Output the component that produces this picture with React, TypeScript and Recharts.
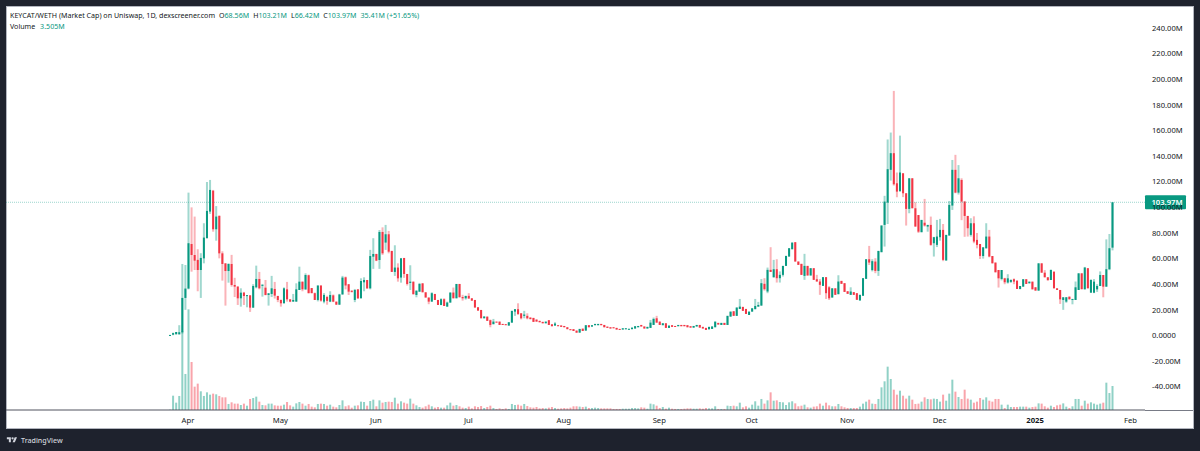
import { Bar, ComposedChart, Label, ReferenceLine, XAxis, YAxis } from 'recharts';

const FONT = '"Noto Sans", sans-serif';
const UP = '#089981';
const DOWN = '#f23645';
const FIRST_DAY = -6; // days relative to 1 Apr 2024

const opens = [
  0.2, 0.6, 0.9, 0.9, 2.5, 29.3,
  36.6, 71.4, 62.8, 59, 51.1, 60.2, 75.9, 96.7, 113, 82.9,
  93.3, 64.1, 56.3, 50.3, 55.8, 39.4, 38.1, 29, 33.4, 31,
  31.3, 21.7, 37.6, 44.1, 39, 37.3, 31.6, 32.4, 36.3, 30.8,
  27.7, 25.1, 36, 28.2, 26.4, 26.4, 35.5, 42, 36, 47,
  37, 33, 27.7, 39, 26.4, 30, 26.4, 31.3, 26.4, 24,
  32.1, 45.4, 40, 35, 27.7, 36, 29, 41.5, 43.3, 36.8,
  61.5, 63.6, 58.9, 80.8, 72.5, 79, 66, 49.6, 53, 45.2,
  60.5, 48, 41, 42, 31.6, 34.2, 40.7, 33.7, 29.6, 26.4,
  32.4, 27.7, 23.8, 28.3, 22.5, 25.7, 33.5, 29, 40.2, 30,
  29, 30.9, 29, 27.7, 22, 19.9, 13.4, 14.7, 11.9, 8.8,
  10.8, 10.8, 9, 8.8, 7.7, 10, 18.6, 20.5, 17.3, 15.3,
  15.3, 14, 13.7, 12.4, 11.4, 10.6, 9.5, 11.9, 8.7, 7.7,
  8, 7.8, 7.4, 6.4, 4.9, 4.9, 3.8, 2.2, 5.3, 3.8,
  8, 6.9, 8, 8, 9, 8.2, 6.9, 6.4, 6.4, 5.9,
  5.1, 4.6, 4.9, 5, 4.9, 5.4, 6.4, 8.2, 7, 5.4,
  5.9, 8.2, 13.4, 10.8, 8, 9.5, 5.9, 8, 7.4, 7.2,
  8.2, 8.2, 8, 7.2, 6.1, 7, 8.2, 6.7, 5.9, 4.8,
  5.1, 6.4, 9.8, 8.2, 9.8, 8.2, 14.7, 18.9, 15.3, 20.7,
  22.3, 20.7, 16, 18.6, 20.5, 22.5, 23.3, 40.3, 34.3, 51.2,
  45.5, 51.7, 44.7, 47.3, 54.3, 61.6, 67.3, 72.8, 57.7, 55.9,
  46.5, 54.3, 46.8, 52.5, 43.9, 42.1, 38.7, 45.5, 37.6, 29.6,
  36.8, 32.2, 42.6, 40.8, 34.5, 31.7, 33.8, 33, 27.3, 31,
  44.2, 59.5, 51, 57.7, 50.4, 65, 86.3, 103.7, 129.3, 142.3,
  118.8, 112.8, 126.6, 111, 98.8, 122.7, 99.3, 94, 80.6, 88,
  85, 86.3, 72, 70.7, 76.7, 82.4, 58.5, 78, 101.4, 129.3,
  111.5, 121.4, 104.5, 93.3, 78.5, 87.6, 74.6, 71.4, 62, 68,
  77.2, 62, 56.9, 51.1, 44.1, 44.6, 41.3, 41.8, 43.9, 42.8,
  36.3, 38.1, 43.9, 40.7, 42, 37.6, 35, 56.3, 49, 45.4,
  43.3, 49.8, 36.8, 35.5, 27.7, 26.4, 30.3, 28, 27.7, 35.5,
  48.5, 36, 52.5, 33.4, 33.4, 36, 38.6, 47.2, 38.1, 51.7, 68.56,
];

const closes = [
  0.4, 1.8, 2.7, 2.5, 29.3, 36.6,
  72, 62.8, 58.4, 51.1, 60.5, 76.4, 97.2, 113.6, 82.9, 92.8,
  64.1, 55.8, 50.3, 55.8, 39.4, 38.1, 29, 33.4, 30.8, 31.5,
  21.7, 38.6, 44.1, 36.8, 39.5, 31.6, 32.9, 36.8, 31.1, 27.7,
  25.1, 36.8, 28.2, 26.4, 27.7, 36, 42, 36, 47.2, 33,
  33, 27.7, 39, 27.2, 31.6, 27, 31.6, 26.4, 24, 32,
  45.2, 39, 34.2, 34, 35.5, 29, 42.5, 43.3, 36.8, 62,
  63.6, 58.4, 80.8, 64.1, 79, 65.4, 49.6, 53, 44.6, 60.2,
  48, 40.2, 42, 32.2, 34.8, 40.2, 33.7, 29.6, 26.4, 33,
  27.7, 23.8, 28.3, 23, 25.7, 33.5, 29, 40.2, 29.8, 29,
  30.9, 28.8, 27.2, 21.8, 19.4, 13.4, 14.7, 11.4, 8.2, 10.8,
  10.3, 8.2, 8.2, 8, 10.3, 19.2, 20.5, 16.8, 13.4, 16.3,
  13.4, 12.7, 10.6, 10.8, 10.3, 9.5, 10.8, 8.2, 7.2, 9.3,
  7.8, 6.7, 6.4, 4.9, 4.5, 3.5, 2.2, 5.1, 3.5, 8,
  6.4, 8, 9, 9, 8, 6.4, 5.9, 5.4, 5.6, 4.6,
  5, 5.6, 5.6, 5.2, 6.1, 7.2, 7.4, 7, 5.4, 6.7,
  10, 12.9, 10, 8.2, 9.5, 5.9, 7.7, 6.7, 6.7, 8.2,
  7.2, 7.2, 6.4, 6.1, 7.4, 8.2, 6.1, 5.4, 4.3, 6.7,
  7, 10.8, 8.5, 9.8, 8.2, 15.3, 18.6, 15.3, 21.8, 22.5,
  19.2, 16.8, 18.6, 21.2, 23, 23.8, 40.8, 36.1, 51.2, 49.6,
  51.7, 44.7, 47.3, 54.3, 62.1, 68.1, 72.5, 57.7, 55.1, 47.3,
  54.3, 46.8, 52.5, 43.4, 42.1, 39.5, 45.5, 33, 29, 36.8,
  31.7, 42.1, 40.3, 34, 32.5, 34.3, 31.7, 27.8, 31.7, 44.7,
  59.5, 56.9, 58, 50.4, 66, 85.8, 104.5, 129.8, 142.3, 118,
  112.3, 127.2, 111, 98.8, 122.7, 99.3, 85, 81, 90.2, 85.8,
  86.3, 70.7, 76.7, 77.2, 82.4, 59, 78.5, 101.9, 129.3, 111.5,
  122.7, 104.5, 93.3, 83.7, 87.6, 73.3, 70.7, 62.1, 68.8, 77.2,
  61.6, 56.3, 49.3, 44.6, 51.1, 41.5, 44.6, 43.3, 42, 36.3,
  38.6, 43.9, 40.2, 42, 36, 35, 56.3, 49, 45.4, 43.3,
  51.1, 36.8, 35.5, 28.2, 29.8, 29.8, 28.2, 28.5, 37.6, 48.5,
  36.1, 53, 36.8, 43.3, 42, 38.6, 47.2, 38.1, 51.7, 68.1, 103.97,
];

const highs = [
  0.4, 2.2, 2.7, 8, 55.8, 55,
  111.5, 100, 92.8, 67.3, 64.2, 87.6, 119.8, 121.4, 113.6, 101,
  93.8, 65.7, 56.3, 56.3, 62.9, 45, 38.5, 36.8, 34, 31.5,
  31.5, 40, 54.5, 49.6, 40.2, 43.3, 33, 46.5, 41.8, 31,
  28, 37.5, 41.8, 28.2, 32.4, 40.7, 53.7, 42, 48.5, 47.5,
  37, 33.5, 39, 39, 33, 31, 34.5, 32, 26.4, 32.5,
  46.5, 46, 40, 35, 36.3, 36, 44.6, 45.4, 43.3, 66.8,
  75.9, 63.8, 82.3, 84.4, 86.3, 81.6, 66, 70.4, 56.3, 60.5,
  60.5, 48, 54.8, 42, 35.5, 41, 40.7, 33.7, 29.6, 33.7,
  32.4, 27.7, 29, 29, 26.4, 33.5, 37.4, 40.2, 40.2, 31.7,
  30.9, 33, 29, 27.7, 22, 19.9, 15.2, 14.7, 12.4, 12.9,
  10.8, 10.8, 9, 8.8, 10.3, 19.2, 20.5, 25.1, 17.3, 19.2,
  17.3, 14, 13.7, 12.4, 11.4, 10.6, 10.8, 11.9, 8.7, 10.3,
  8, 7.8, 7.4, 6.4, 4.9, 4.9, 3.8, 5.1, 5.3, 8,
  8, 8, 9, 9, 9, 8.2, 6.9, 6.4, 6.4, 5.9,
  5.1, 5.6, 5.6, 5.2, 6.1, 7.2, 7.4, 8.2, 7, 6.7,
  12.1, 14, 15.3, 10.8, 9.5, 9.5, 7.7, 8, 7.4, 8.2,
  8.2, 8.2, 8, 7.2, 7.4, 8.2, 8.2, 6.7, 5.9, 6.7,
  7, 10.8, 9.8, 9.8, 9.8, 15.3, 18.6, 18.9, 21.8, 28.5,
  22.3, 20.7, 18.6, 21.2, 28.5, 26.2, 44, 44.7, 53, 68.9,
  59, 59.5, 50, 54.3, 62.1, 68.1, 72.5, 72.8, 57.7, 55.9,
  63.7, 54.3, 52.5, 52.5, 47.3, 44, 45.5, 45.5, 38.5, 36.8,
  36.8, 47, 42.6, 40.8, 34.5, 37.6, 33.8, 33, 31.7, 44.7,
  59.5, 69.9, 59.5, 60.3, 66, 86, 109, 153, 158.4, 190.9,
  127.2, 156, 126.6, 111, 122.7, 122.7, 104, 94, 90.2, 106.6,
  86.3, 92.8, 77, 90.2, 91, 87, 78.5, 105, 137, 141,
  133, 122.7, 105, 93.3, 91.5, 93, 80, 71.4, 68.8, 87.6,
  82.4, 62, 56.9, 51.1, 51.1, 45, 47.8, 43.8, 44.5, 42.8,
  38.6, 43.9, 43.9, 42, 42, 37.6, 56.3, 56.3, 51, 45.5,
  51.5, 49.8, 36.8, 35.5, 29.8, 30, 30.3, 28.5, 42.1, 48.5,
  48.5, 53.5, 52.5, 43.8, 44, 40, 50, 47.2, 75, 79.2, 103.97,
];

const lows = [
  -0.1, 0.2, 0.9, 0.7, 1.5, 20,
  36, 49.8, 51.1, 34.5, 29.3, 56.3, 75.9, 94.9, 81, 74,
  60.2, 42.8, 23.3, 41.2, 38.1, 30, 23.8, 22.5, 23.8, 22,
  18.4, 21.7, 36.8, 36, 30.3, 31.3, 23.3, 30, 28.8, 26,
  22.5, 25.1, 26.4, 26, 26.4, 26.4, 35.5, 34.5, 35.5, 32.9,
  33, 27.7, 26.6, 26.4, 25.1, 24, 26, 26, 24, 24,
  31.6, 36, 31.6, 33.5, 26, 28.5, 29, 34.5, 36.3, 36,
  52, 58, 52, 62.9, 66.8, 64.1, 49.6, 46.5, 42, 41.2,
  45, 39, 35.5, 32, 29.8, 34, 33.7, 29.6, 24.4, 26.4,
  27.7, 23.8, 23.6, 23, 22.5, 25.5, 29, 29, 29.8, 27.2,
  28, 28.8, 27, 21.8, 19.4, 13.4, 13.4, 11.4, 6.4, 8.7,
  10, 8.2, 8.2, 8, 7.7, 10, 15.3, 16, 12.5, 13.4,
  12.6, 12.7, 10.6, 10.8, 10.3, 9.5, 9.5, 8.2, 7.2, 7.7,
  7.8, 6.7, 6.4, 4.9, 4.5, 3.5, 2, 2.2, 3.5, 3.8,
  6.4, 6.9, 8, 8, 8, 6.4, 5.9, 5.4, 5.6, 4.6,
  5, 4.6, 4.9, 5, 4.9, 5.4, 6.4, 7, 5.4, 5.4,
  5.9, 8.2, 10, 8.2, 8, 5.9, 5.9, 6.7, 6.7, 7.2,
  7.2, 7.2, 6.4, 6.1, 6.1, 7, 6.1, 5.4, 4.3, 4.8,
  5.1, 6.4, 8.5, 8.2, 8.2, 8.2, 14.7, 15.3, 15.3, 20.7,
  19.2, 16.8, 16, 18.6, 20.5, 22.5, 23.3, 35, 33, 49.6,
  45, 41.3, 41.3, 46, 54.3, 61.6, 67.3, 57.7, 55.1, 47.3,
  43.4, 46.8, 46.8, 43.4, 42.1, 31.7, 38.7, 28.5, 27.7, 29.6,
  31.7, 32.2, 40.3, 34, 32.5, 31.7, 31.7, 27.8, 27.3, 31,
  44.2, 55, 50, 48.6, 46.5, 65, 69.4, 87, 120.9, 117,
  107.9, 112, 108, 85.8, 95.4, 99.3, 85, 80, 80.6, 85,
  81, 70, 61.6, 69, 74, 58, 58.5, 78, 98, 111,
  110, 90, 77, 77.2, 77.2, 72, 68, 59.7, 60, 68,
  61, 56.3, 49.3, 37.4, 43, 40, 40.5, 41, 40, 36.3,
  36, 38.1, 40.2, 40.7, 36, 35, 35, 49, 45.4, 42.5,
  43.3, 36.8, 35.5, 24.6, 20, 25.5, 28.2, 24.3, 27.7, 35.5,
  36.1, 36, 36.8, 33.4, 33, 34, 38.6, 29.8, 38, 51, 66.42,
];

const volumes = [
  0.05, 2.09, 1.07, 2.05, 11.5, 5.26,
  14.7, 7.01, 3.41, 3.85, 2.73, 2.05, 2.58, 2.24, 2.39, 2.29,
  2.05, 1.85, 1.85, 0.88, 1.12, 0.93, 0.93, 0.73, 0.93, 0.63,
  1.61, 1.75, 1.95, 1.22, 0.73, 0.68, 0.93, 0.93, 0.68, 0.63,
  0.63, 0.78, 1.17, 0.68, 0.49, 0.97, 1.17, 0.93, 0.63, 0.88,
  0.49, 0.39, 0.88, 0.93, 0.88, 0.63, 0.78, 0.49, 0.39, 0.73,
  1.41, 0.54, 0.68, 0.34, 0.63, 0.68, 1.22, 1.17, 0.63, 1.31,
  1.51, 0.54, 1.41, 1.07, 1.17, 1.22, 1.17, 1.8, 0.93, 1.27,
  1.07, 0.93, 1.66, 0.93, 0.68, 0.44, 0.34, 0.54, 0.78, 0.54,
  0.34, 0.44, 0.34, 0.34, 0.68, 1.07, 0.63, 0.73, 0.54, 0.34,
  0.29, 0.49, 0.24, 0.54, 0.44, 0.58, 0.29, 0.44, 0.63, 0.29,
  0.15, 0.24, 0.15, 0.24, 0.15, 0.88, 0.73, 0.78, 0.63, 0.88,
  0.58, 0.39, 0.34, 0.44, 0.24, 0.29, 0.24, 0.34, 0.44, 0.29,
  0.19, 0.24, 0.29, 0.24, 0.34, 0.54, 0.54, 0.49, 0.44, 0.49,
  0.29, 0.29, 0.34, 0.29, 0.24, 0.24, 0.24, 0.24, 0.15, 0.15,
  0.15, 0.19, 0.19, 0.19, 0.29, 0.29, 0.24, 0.39, 0.34, 0.19,
  0.93, 0.83, 0.63, 0.29, 0.44, 0.19, 0.34, 0.19, 0.15, 0.15,
  0.15, 0.19, 0.24, 0.24, 0.19, 0.19, 0.24, 0.19, 0.29, 0.24,
  0.24, 0.54, 0.15, 0.15, 0.15, 0.63, 0.58, 0.63, 0.54, 1.07,
  0.39, 0.54, 0.34, 0.78, 1.27, 0.63, 1.61, 0.93, 1.41, 2.58,
  1.36, 1.41, 1.17, 1.12, 0.73, 1.12, 1.27, 0.97, 0.54, 0.63,
  0.78, 0.39, 0.34, 0.49, 0.54, 0.93, 0.63, 1.07, 0.68, 0.54,
  0.54, 0.88, 0.54, 0.39, 0.29, 0.29, 0.29, 0.29, 0.49, 0.93,
  1.22, 1.51, 0.93, 0.88, 1.61, 3.31, 4.19, 6.33, 4.53, 2.97,
  2.24, 2.82, 2.09, 1.66, 2.09, 1.51, 0.88, 0.93, 1.22, 1.85,
  1.61, 1.56, 1.66, 1.61, 1.22, 2.24, 1.36, 2.39, 4.43, 2.68,
  1.9, 1.61, 2.97, 1.66, 1.51, 1.07, 1.22, 1.75, 1.51, 1.85,
  1.36, 1.22, 1.61, 1.61, 0.78, 0.29, 0.78, 0.44, 0.44, 0.44,
  0.49, 0.49, 0.49, 0.34, 0.44, 0.49, 0.97, 0.93, 0.54, 0.34,
  0.63, 0.44, 0.68, 0.78, 0.97, 0.49, 0.29, 0.54, 1.61, 1.61,
  0.63, 1.36, 0.93, 1.12, 0.93, 0.78, 0.93, 1.07, 3.99, 2.48, 3.505,
];

const priceTicks = [-40, -20, 0, 20, 40, 60, 80, 100, 120, 140, 160, 180, 200, 220, 240];
const monthLabels = ['Apr', 'May', 'Jun', 'Jul', 'Aug', 'Sep', 'Oct', 'Nov', 'Dec', '2025', 'Feb'];
const monthDays = [0, 30, 61, 91, 122, 153, 183, 214, 244, 275, 306];

const headerValues = [
  ['O', '68.56M'],
  ['H', '103.21M'],
  ['L', '66.42M'],
  ['C', '103.97M'],
];

const rows = opens.map((open, i) => ({
  day: FIRST_DAY + i,
  open,
  close: closes[i],
  range: [lows[i], highs[i]],
  volume: volumes[i],
}));

const formatPrice = (v: number) => (v === 0 ? '0.0000' : `${v.toFixed(2)}M`);

const Candle = (props: any) => {
  const { x, y, width, height, payload } = props;
  const [low, high] = payload.range;
  const color = payload.close >= payload.open ? UP : DOWN;
  const perUnit = height / (high - low || 1);
  const bodyTop = y + (high - Math.max(payload.open, payload.close)) * perUnit;
  const bodyHeight = Math.max(Math.abs(payload.close - payload.open) * perUnit, 1);
  return (
    <g>
      <rect x={x} y={y} width={width} height={Math.max(height, 1)} fill={color} fillOpacity={0.38} />
      <rect x={x} y={bodyTop} width={width} height={bodyHeight} fill={color} />
    </g>
  );
};

const VolumeBar = (props: any) => {
  const { x, y, width, height, payload } = props;
  const color = payload.close >= payload.open ? UP : DOWN;
  return <rect x={x} y={y} width={width} height={height} fill={color} fillOpacity={0.45} />;
};

const MonthTick = (props: any) => {
  const { x, y, payload } = props;
  const label = monthLabels[monthDays.indexOf(payload.value)];
  return (
    <text
      x={x}
      y={y + 5}
      textAnchor="middle"
      fontFamily={FONT}
      fontSize={7.7}
      fontWeight={label === '2025' ? 700 : 400}
      fill="#131722"
    >
      {label}
    </text>
  );
};

const PriceTag = (props: any) => {
  const { x, y, width } = props.viewBox;
  const left = x + width;
  return (
    <g>
      <rect x={left} y={y - 7} width={41} height={14} rx={1} fill={UP} />
      <text x={left + 22} y={y + 2.8} textAnchor="middle" fontFamily={FONT} fontSize={7.7} fontWeight={600} fill="#fff">
        103.97M
      </text>
    </g>
  );
};

export default function App() {
  return (
    <div style={{ position: 'absolute', left: 0, top: 0, width: 1200, height: 451, background: '#1e222d', overflow: 'hidden' }}>
      <div style={{ position: 'absolute', left: 6, top: 6, width: 1188, height: 423, background: '#fff', boxShadow: 'inset 0 0 0 1px #b2b5be' }}>
        <ComposedChart width={1188} height={423} data={rows} margin={{ top: 0, right: 0, bottom: 0, left: 0 }}>
          <XAxis
            xAxisId="candles"
            type="number"
            dataKey="day"
            domain={[-59.1, 310.7]}
            ticks={monthDays}
            interval={0}
            height={19}
            tickLine={false}
            axisLine={{ stroke: '#50535e' }}
            tick={<MonthTick />}
          />
          <XAxis xAxisId="volumes" type="number" dataKey="day" domain={[-59.1, 310.7]} hide />
          <YAxis
            yAxisId="price"
            orientation="right"
            type="number"
            domain={[-58.2, 257.2]}
            ticks={priceTicks}
            interval={0}
            width={49}
            tickLine={false}
            axisLine={false}
            tickMargin={1}
            tickFormatter={formatPrice}
            tick={{ fontFamily: FONT, fontSize: 7.6, fill: '#131722', textAnchor: 'start' }}
          />
          <YAxis yAxisId="volume" type="number" domain={[0, 59]} hide />
          <Bar xAxisId="volumes" yAxisId="volume" dataKey="volume" barSize={2} shape={<VolumeBar />} isAnimationActive={false} />
          <Bar xAxisId="candles" yAxisId="price" dataKey="range" barSize={2} shape={<Candle />} isAnimationActive={false} />
          <ReferenceLine xAxisId="candles" yAxisId="price" y={103.97} stroke={UP} strokeOpacity={0.4} strokeDasharray="1 1">
            <Label content={<PriceTag />} />
          </ReferenceLine>
        </ComposedChart>
        <div style={{ position: 'absolute', left: 1139, top: 404, width: 48, height: 1, background: '#787b86' }} />
        <div style={{ position: 'absolute', left: 4, top: 4, fontFamily: FONT, fontSize: 7.1, lineHeight: '10.5px', color: '#131722', whiteSpace: 'nowrap' }}>
          <div>
            KEYCAT/WETH (Market Cap) on Uniswap, 1D, dexscreener.com
            {headerValues.map(([key, value]) => (
              <span key={key} style={{ marginLeft: 4 }}>
                {key}
                <span style={{ color: UP }}>{value}</span>
              </span>
            ))}
            <span style={{ color: UP, marginLeft: 4 }}>35.41M (+51.65%)</span>
          </div>
          <div>
            Volume <span style={{ color: UP, marginLeft: 3 }}>3.505M</span>
          </div>
        </div>
      </div>
      <div style={{ position: 'absolute', left: 6, top: 434, display: 'flex', alignItems: 'center', gap: 3, color: '#d1d4dc', fontFamily: FONT, fontSize: 7.1, fontWeight: 500, lineHeight: '12px' }}>
        <svg width={12} height={8} viewBox="0 0 36 28" fill="#d1d4dc">
          <path d="M14 22H7V11H0V4h14v18zM28 22h-8l7.5-18h8L28 22z" />
          <circle cx="20" cy="8" r="4" />
        </svg>
        <span>TradingView</span>
      </div>
    </div>
  );
}
